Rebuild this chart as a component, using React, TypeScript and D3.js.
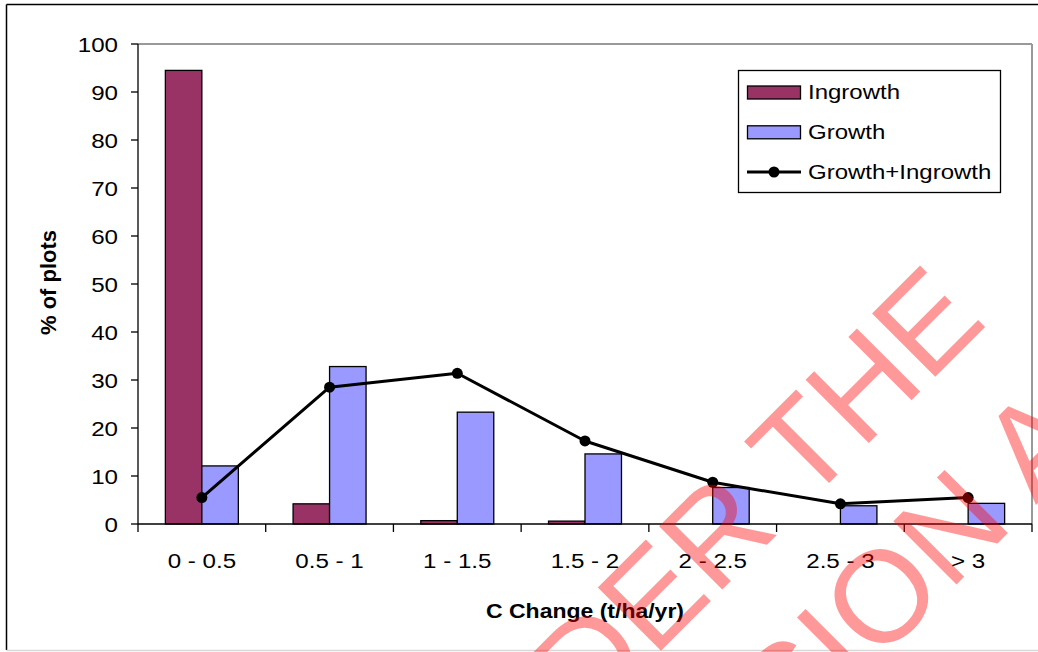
import React from "react";
import * as d3 from "d3";

const categories = ["0 - 0.5", "0.5 - 1", "1 - 1.5", "1.5 - 2", "2 - 2.5", "2.5 - 3", "> 3"];
const ingrowth = [94.5, 4.2, 0.7, 0.6, 0, 0, 0];
const growth = [12.1, 32.8, 23.3, 14.6, 7.6, 3.8, 4.3];
const combined = [5.5, 28.5, 31.4, 17.3, 8.7, 4.2, 5.5];
const yTicks = [0, 10, 20, 30, 40, 50, 60, 70, 80, 90, 100];
const seriesNames = ["Ingrowth", "Growth", "Growth+Ingrowth"];
const stampLines = ["UNDER THE", "REVISION AND"];

const W = 1038;
const H = 652;
const FONT = "'Liberation Sans', Arial, Helvetica, sans-serif";
const INGROWTH_COLOR = "#993366";
const GROWTH_COLOR = "#9999FF";

const plot = { left: 138, right: 1032, top: 44, bottom: 524 };
const legendRows = [92.5, 132.3, 172];

export default function App() {
  const x = d3
    .scaleBand<string>()
    .domain(categories)
    .range([plot.left, plot.right])
    .paddingInner(0)
    .paddingOuter(0);
  const y = d3.scaleLinear().domain([0, 100]).range([plot.bottom, plot.top]);

  const band = x.bandwidth();
  const barW = band / 3.5; // 150% gap between clusters
  const center = (c: string) => (x(c) as number) + band / 2;

  const line = d3
    .line<number>()
    .x((_, i) => center(categories[i]))
    .y((v) => y(v));

  const boundaries = [...categories.map((c) => x(c) as number), plot.right];

  return (
    <svg
      width={W}
      height={H}
      style={{ position: "absolute", left: 0, top: 0, background: "#fff" }}
      fontFamily={FONT}
    >
      <rect x={0} y={0} width={W} height={H} fill="#fff" />
      {/* outer chart frame */}
      <line x1={6.5} y1={4.5} x2={W} y2={4.5} stroke="#000" strokeWidth={1.5} />
      <line x1={6.5} y1={4.5} x2={6.5} y2={650} stroke="#000" strokeWidth={1.5} />
      <line x1={6.5} y1={650.5} x2={W} y2={650.5} stroke="#d8d8d8" strokeWidth={1.5} />

      {/* plot area border */}
      <line x1={plot.left} y1={plot.top} x2={plot.right} y2={plot.top} stroke="#999" strokeWidth={2} />
      <line x1={plot.right} y1={plot.top} x2={plot.right} y2={plot.bottom} stroke="#999" strokeWidth={2} />

      {/* bars */}
      {categories.map((c, i) => (
        <g key={c}>
          {ingrowth[i] > 0 && (
            <rect
              x={center(c) - barW}
              y={y(ingrowth[i])}
              width={barW}
              height={y(0) - y(ingrowth[i])}
              fill={INGROWTH_COLOR}
              stroke="#000"
              strokeWidth={1.3}
            />
          )}
          <rect
            x={center(c)}
            y={y(growth[i])}
            width={barW}
            height={y(0) - y(growth[i])}
            fill={GROWTH_COLOR}
            stroke="#000"
            strokeWidth={1.3}
          />
        </g>
      ))}

      {/* axes */}
      <line x1={plot.left} y1={plot.top} x2={plot.left} y2={plot.bottom} stroke="#000" strokeWidth={1.3} />
      <line x1={plot.left} y1={plot.bottom} x2={plot.right} y2={plot.bottom} stroke="#000" strokeWidth={1.3} />
      {yTicks.map((t) => (
        <g key={t}>
          <line x1={plot.left - 7} x2={plot.left} y1={y(t)} y2={y(t)} stroke="#000" strokeWidth={1.3} />
          <text
            transform={`translate(${plot.left - 20},${y(t) + 7.8}) scale(1.15,1)`}
            textAnchor="end"
            fontSize={21}
            fill="#000"
          >
            {t}
          </text>
        </g>
      ))}
      {boundaries.map((b, i) => (
        <line key={i} x1={b} x2={b} y1={plot.bottom} y2={plot.bottom + 8} stroke="#000" strokeWidth={1.3} />
      ))}
      {categories.map((c) => (
        <text
          key={c}
          transform={`translate(${center(c)},568) scale(1.15,1)`}
          textAnchor="middle"
          fontSize={21}
          fill="#000"
        >
          {c}
        </text>
      ))}

      {/* combined line */}
      <path d={line(combined) as string} fill="none" stroke="#000" strokeWidth={3} strokeLinejoin="round" />
      {combined.map((v, i) => (
        <circle key={i} cx={center(categories[i])} cy={y(v)} r={5.5} fill="#000" />
      ))}

      {/* axis titles */}
      <text
        transform={`translate(${(plot.left + plot.right) / 2},618) scale(1.15,1)`}
        textAnchor="middle"
        fontSize={20}
        fontWeight="bold"
        fill="#000"
      >
        C Change (t/ha/yr)
      </text>
      <text
        transform="translate(55.5,282.5) rotate(-90)"
        textAnchor="middle"
        fontSize={22}
        fontWeight="bold"
        fill="#000"
      >
        % of plots
      </text>

      {/* legend */}
      <rect x={738.5} y={70.5} width={262} height={122} fill="#fff" stroke="#000" strokeWidth={1.3} />
      <rect x={747.5} y={legendRows[0] - 6.5} width={53} height={13} fill={INGROWTH_COLOR} stroke="#000" strokeWidth={1.3} />
      <rect x={747.5} y={legendRows[1] - 6.5} width={53} height={13} fill={GROWTH_COLOR} stroke="#000" strokeWidth={1.3} />
      <line x1={747} x2={801} y1={legendRows[2]} y2={legendRows[2]} stroke="#000" strokeWidth={3} />
      <circle cx={774} cy={legendRows[2]} r={5.5} fill="#000" />
      {seriesNames.map((s, i) => (
        <text
          key={s}
          transform={`translate(808,${legendRows[i] + 6.5}) scale(1.2,1)`}
          fontSize={20}
          fill="#000"
        >
          {s}
        </text>
      ))}

      {/* stamp */}
      <g fill="#ff0000" fillOpacity={0.4} fontSize={130} fontFamily={FONT}>
        <text transform="translate(454.4,857.4) rotate(-45)">{stampLines[0]}</text>
        <text transform="translate(576,965) rotate(-45)">{stampLines[1]}</text>
      </g>
    </svg>
  );
}
